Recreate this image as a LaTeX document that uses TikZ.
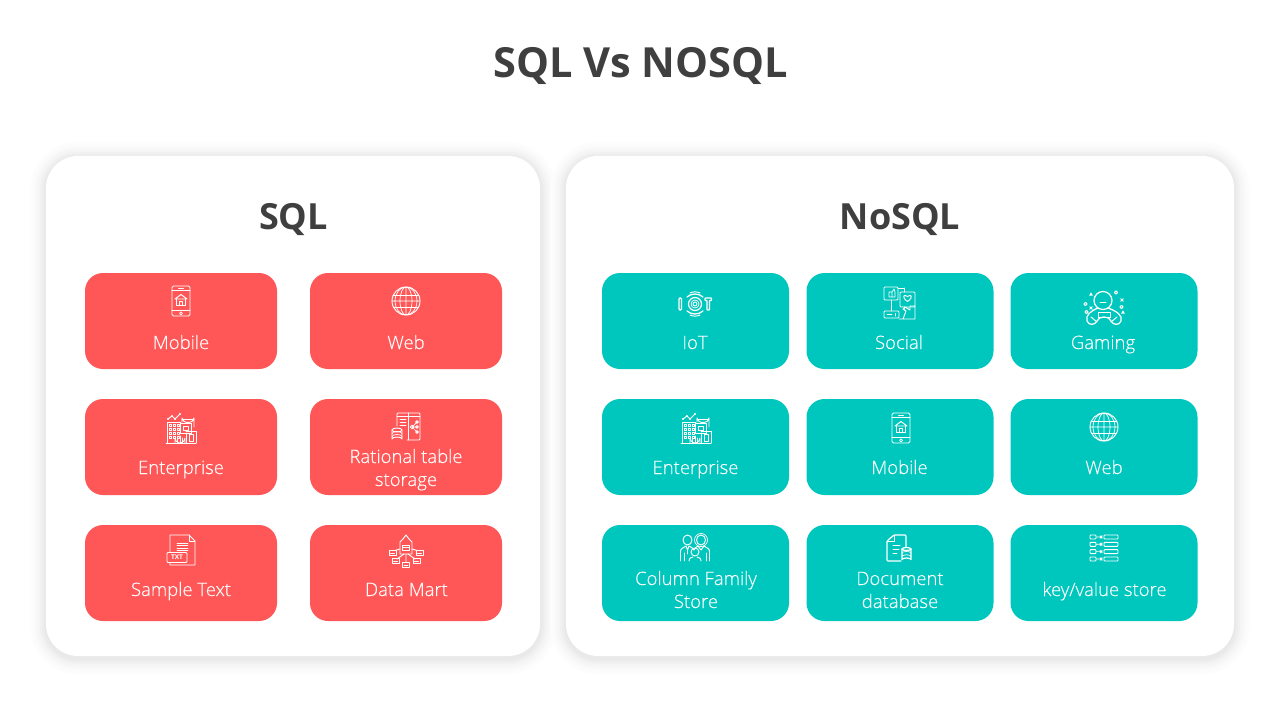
\documentclass[tikz,border=0pt]{standalone}
\usepackage{fontspec}
\setmainfont{Open Sans}
\newfontfamily\lightfont[FakeBold=0.25]{Open Sans Light}
\definecolor{sqlred}{HTML}{FF5757}
\definecolor{nosqlteal}{HTML}{00C7BE}
\definecolor{inktext}{HTML}{3F3F3F}
\newcommand{\shadowpanel}[4]{%
  \foreach \g/\k in {16/0.6,14/1.2,12/2,10/3,8/4,6/5.5,4/7,2/8.5}{
    \fill[black!\k,rounded corners={32pt+\g*1pt}]
      ({#1-\g},{#2-\g+2}) rectangle ({#3+\g},{#4+\g+2});
  }
}
\tikzset{
  x=1pt,y=-1pt,
  panel/.style={fill=white,rounded corners=32pt,inner sep=0pt,draw=none},
  redtile/.style={fill=sqlred,rounded corners=18pt,minimum height=96pt,minimum width=192pt,inner sep=0pt},
  tealtile/.style={fill=nosqlteal,rounded corners=18pt,minimum height=96pt,minimum width=187pt,inner sep=0pt},
  tiletext/.style={text=white,font=\lightfont\fontsize{18.5}{23}\selectfont,align=center,inner sep=0pt,anchor=base},
  heading/.style={text=inktext,font=\fontsize{36}{42}\bfseries\selectfont,inner sep=0pt,anchor=base},
  title/.style={text=inktext,font=\fontsize{41.5}{48}\bfseries\selectfont,inner sep=0pt,anchor=base},
  ln/.style={draw=white,line width=0.95pt,line cap=round,line join=round},
  thinln/.style={draw=white,line width=0.7pt,line cap=round,line join=round},
  boldln/.style={draw=white,line width=1.25pt,line cap=round,line join=round},
  phone/.pic={
    \draw[ln,rounded corners=1.5pt] (-9,-15) rectangle (9,15);
    \draw[thinln] (-9,-10.5)--(9,-10.5) (-9,9.5)--(9,9.5) (-2.5,-12.8)--(2.5,-12.8);
    \draw[thinln] (0,12.3) circle (1.5);
    \draw[ln] (-6,-2)--(0,-6.5)--(6,-2)--cycle;
    \draw[ln] (-4.5,-2)--(-4.5,4.5)--(4.5,4.5)--(4.5,-2);
    \draw[thinln] (-1.5,4.5)--(-1.5,0.5)--(1.5,0.5)--(1.5,4.5);
  },
  globe/.pic={
    \draw[ln] (0,0) circle (14);
    \draw[thinln] (0,0) ellipse (6 and 14) (0,0) ellipse (11 and 14) (0,-14)--(0,14) (-14,0)--(14,0);
    \draw[thinln] (-12.6,-6)--(12.6,-6) (-12.6,6)--(12.6,6);
  },
  factory/.pic={
    \draw[ln] (-15,15)--(15,15);
    \draw[ln] (-14,15)--(-14,-6)--(0,-6);
    \draw[ln] (-13,-9)--(-9,-12)--(-6,-9)--(-1,-14);
    \fill[white] (-13,-9) circle (1.2) (-9,-12) circle (1.2) (-6,-9) circle (1.2) (-1,-14) circle (1.2);
    \draw[ln] (1,-6)--(1,-10) arc[start angle=180,end angle=0,x radius=6,y radius=4.5]--(13,-1);
    \draw[thinln] (1,-9)--(13,-9);
    \foreach \p in {-12,-8,-4}{\foreach \q in {-4,0,4,8}{\draw[thinln] (\p,\q) rectangle ++(2.6,2.6);}}
    \draw[ln] (-1,-5) rectangle (10,5);
    \draw[thinln] (2,-2) rectangle (7,2);
    \draw[thinln] (-6,15)--(-6,10) arc[start angle=180,end angle=0,radius=5]--(4,15);
    \draw[thinln] (-3.5,15)--(-3.5,10) (-1,15)--(-1,8) (1.5,15)--(1.5,10);
    \draw[ln] (5,15)--(5,5) (5,3)--(15,3)--(15,15);
    \draw[thinln] (8,6) rectangle (12.5,13);
  },
  tablestore/.pic={
    \draw[ln,rounded corners=1pt] (-9,-1)--(-9,-14)--(14,-14)--(14,13)--(1,13);
    \draw[thinln] (-9,-10.5)--(14,-10.5) (2,-14)--(2,13);
    \draw[thinln] (-6,-7.5)--(0,-7.5) (-6,-4.5)--(0,-4.5) (-6,-1.5)--(0,-1.5);
    \draw[thinln] (6,0)--(11,-5) (6,0)--(11,5) (6,0)--(11,0);
    \draw[ln] (6,0) circle (1.8) (11,-5) circle (1.4) (11,0) circle (1.4) (11,5) circle (1.4);
    \draw[ln] (-14,3)--(-14,12) arc[start angle=180,end angle=360,x radius=5,y radius=2]--(-4,3);
    \draw[ln] (-9,3) ellipse (5 and 2);
    \draw[thinln] (-14,6.5) arc[start angle=180,end angle=360,x radius=5,y radius=2];
    \draw[thinln] (-14,9.5) arc[start angle=180,end angle=360,x radius=5,y radius=2];
  },
  txtfile/.pic={
    \draw[ln] (-11,2)--(-11,-15)--(8,-15)--(14,-9)--(14,15)--(-11,15)--(-11,13);
    \draw[thinln] (8,-15)--(8,-9)--(14,-9);
    \draw[ln,rounded corners=1pt] (-14,2.5) rectangle (6,12.5);
    \draw[ln] (-4,-7)--(7,-7) (-4,-4.5)--(7,-4.5) (-4,-2)--(7,-2) (-4,0.5)--(7,0.5);
    \node[text=white,font=\fontsize{6.5}{6.5}\bfseries\selectfont,inner sep=0pt] (txtlabel) at (-4,7.5) {TXT};
  },
  datamart/.pic={
    \draw[ln] (-6,-9)--(-6,3)--(6,3)--(6,-9)--(3,-12)--(0,-16)--(-3,-12)--cycle;
    \draw[thinln] (-3.5,-6) rectangle (3.5,-1);
    \draw[thinln] (-3.5,-3.5)--(3.5,-3.5);
    \draw[ln] (-6,-2)--(-11,-0.5) (6,-2)--(11,-0.5) (0,3)--(0,11) (-2,3)--(-9,8) (2,3)--(9,8);
    \foreach \p/\q in {-13.5/2,13.5/2,-10.5/10,10.5/10,0/14}{
      \draw[ln] ({\p-3.5},{\q-2.5}) rectangle ({\p+3.5},{\q+2.5});
      \draw[thinln] ({\p-2},\q)--({\p+2},\q);
    }
  },
  iot/.pic={
    \draw[boldln,rounded corners=1pt] (-16,-6) rectangle (-13.5,6);
    \draw[boldln,rounded corners=.6pt] (10,-6)--(16.5,-6)--(16.5,-3.5)--(14.5,-3.5)--(14.5,6)--(12,6)--(12,-3.5)--(10,-3.5)--cycle;
    \draw[boldln] (0,0) circle (6.5);
    \draw[ln] (0,0) circle (2);
    \draw[thinln] (0,0) circle (4);
    \draw[boldln] (-8,-7) .. controls (-3.5,-11) and (3.5,-11) .. (8,-7);
    \draw[ln] (-5,-11) .. controls (-2,-12.5) and (2,-12.5) .. (5,-11);
    \draw[boldln] (-8,7) .. controls (-3.5,11) and (3.5,11) .. (8,7);
    \draw[ln] (-5,11) .. controls (-2,12.5) and (2,12.5) .. (5,11);
  },
  social/.pic={
    \draw[ln,rounded corners=1pt] (-16,-16) rectangle (-2,-3);
    \draw[thinln] (-9,-3)--(-9,8);
    \draw[thinln] (-11,-6) rectangle (-8,-11) (-8,-11)--(-6,-14)--(-5,-11)--(-5,-6)--(-8,-6);
    \draw[thinln] (-2,-15)--(4,-15) (4,-15)--(4,-11);
    \draw[ln,rounded corners=1pt] (0,-11) rectangle (15,4);
    \draw[thinln] (4,4)--(4,7);
    \draw[ln] (7.5,-1.5) .. controls (1,-6) and (4,-9.5) .. (7.5,-6.5) .. controls (11,-9.5) and (14,-6) .. (7.5,-1.5);
    \draw[ln,rounded corners=1pt] (-16,8) rectangle (-1,15);
    \draw[thinln] (-13,11.5)--(-8,11.5) (-5,10.5)--(-5,13);
    \draw[ln] (3,16)--(6,8)--(3,6)--(5,4)--(10,7)--(10,3)--(15,3)--(15,16)--(-1,16);
  },
  gaming/.pic={
    \draw[boldln] (-1,-7.5) circle (9);
    \draw[ln] (-4,-6)--(2,-6);
    \draw[boldln] (-6,0) .. controls (-13,3) and (-19,7) .. (-17,13) .. controls (-15,18) and (-9,17) .. (-7,13) .. controls (-6,10) and (-3,9) .. (0,9) .. controls (3,9) and (6,10) .. (7,13) .. controls (9,17) and (15,18) .. (17,13) .. controls (19,7) and (12,3) .. (4,0);
    \draw[ln] (-6,4) rectangle (6,9);
    \draw[ln] (-13,9)--(-7,14) (13,9)--(7,14);
    \foreach \p/\q in {-18.5/-4,-17.5/4,12/-15.5,17.5/-1}{\draw[ln] (\p,\q) circle (1.6);}
    \foreach \p/\q in {-13/0,18/-8}{\draw[ln] (\p-1.4,\q-1.4)--(\p+1.4,\q+1.4) (\p-1.4,\q+1.4)--(\p+1.4,\q-1.4);}
    \foreach \p/\q in {-13/-14,19/4}{\fill[white] (\p-1.8,\q+1.5)--(\p,\q-1.7)--(\p+1.8,\q+1.5)--cycle;}
  },
  family/.pic={
    \draw[ln] (-7.5,-8) ellipse (4.5 and 5);
    \draw[ln] (6,-8) ellipse (4.5 and 5);
    \draw[thinln] (6,-8) ellipse (6.5 and 6.5);
    \draw[ln] (-14.5,13)--(-14.5,3) .. controls (-14.5,0) and (-11,0) .. (-9,-2)--(-7.5,2)--(-6,-2) .. controls (-4,-1) and (-2,0) .. (-1,2);
    \draw[ln] (14.5,13)--(14.5,3) .. controls (14.5,0) and (11,0) .. (9,-2)--(6,2)--(3,-2) .. controls (1,-1) and (0,0) .. (-1,2);
    \draw[thinln] (-11,5)--(-11,13) (11,5)--(11,13) (-7.5,2)--(-7.5,6);
    \draw[ln] (0,4) circle (4);
    \draw[ln] (-6,13) .. controls (-6,9.5) and (-3,9.5) .. (-2,9) (6,13) .. controls (6,9.5) and (3,9.5) .. (2,9);
  },
  docstore/.pic={
    \draw[boldln,rounded corners=1pt] (2,13)--(-12,13)--(-12,-7)--(-5,-13)--(7,-13)--(7,-1);
    \draw[ln] (-5,-13)--(-5,-7)--(-12,-7);
    \draw[ln] (-6,-3)--(1,-3) (-6,1)--(0,1) (-6,5)--(-2,5);
    \draw[boldln] (3,1)--(3,11.5) arc[start angle=180,end angle=360,x radius=4.5,y radius=1.5]--(12,1);
    \draw[boldln] (7.5,1) ellipse (4.5 and 1.5);
    \draw[thinln] (3,5) arc[start angle=180,end angle=360,x radius=4.5,y radius=1.5];
    \draw[thinln] (3,8.3) arc[start angle=180,end angle=360,x radius=4.5,y radius=1.5];
  },
  kvstore/.pic={
    \foreach \q in {-11,-3.7,3.6,11}{
      \draw[ln,rounded corners=.8pt] (-14,\q-2) rectangle (-8,\q+2);
      \draw[ln,rounded corners=.8pt] (0,\q-2) rectangle (14,\q+2);
      \draw[thinln] (-8,\q)--(-2,\q) (-2,\q-1.5)--(-2,\q+1.5) (-4,\q-1.2)--(-2,\q)--(-4,\q+1.2);
    }
  }
}
\begin{document}
\begin{tikzpicture}
\useasboundingbox (0,0) rectangle (1280,720);
\fill[white] (0,0) rectangle (1280,720);
\shadowpanel{46}{156}{540}{656}
\shadowpanel{566}{156}{1234}{656}
\node[panel,minimum width=494pt,minimum height=500pt] (sqlpanel) at (293,406) {};
\node[panel,minimum width=668pt,minimum height=500pt] (nosqlpanel) at (900,406) {};
\node[title] (maintitle) at (640.5,77) {SQL Vs NOSQL};
\node[heading] (sqlhead) at (293.5,229) {SQL};
\node[heading] (nosqlhead) at (900,229) {NoSQL};

\node[redtile] (r1) at (181,321) {};
\node[redtile] (r2) at (406,321) {};
\node[redtile] (r3) at (181,447) {};
\node[redtile] (r4) at (406,447) {};
\node[redtile] (r5) at (181,573) {};
\node[redtile] (r6) at (406,573) {};
\node[tealtile] (t1) at (695.5,321) {};
\node[tealtile] (t2) at (900,321) {};
\node[tealtile] (t3) at (1104,321) {};
\node[tealtile] (t4) at (695.5,447) {};
\node[tealtile] (t5) at (900,447) {};
\node[tealtile] (t6) at (1104,447) {};
\node[tealtile] (t7) at (695.5,573) {};
\node[tealtile] (t8) at (900,573) {};
\node[tealtile] (t9) at (1104,573) {};

\node[tiletext] (lr1) at (181,349) {Mobile};
\node[tiletext] (lr2) at (406,349) {Web};
\node[tiletext] (lr3) at (181,474) {Enterprise};
\node[tiletext] (lr4) at (406,486) {Rational table\\storage};
\node[tiletext] (lr5) at (181,596) {Sample Text};
\node[tiletext] (lr6) at (406.5,596) {Data Mart};
\node[tiletext] (lt1) at (695,349) {IoT};
\node[tiletext] (lt2) at (899,349) {Social};
\node[tiletext] (lt3) at (1103,349) {Gaming};
\node[tiletext] (lt4) at (695.5,474) {Enterprise};
\node[tiletext] (lt5) at (899.5,474) {Mobile};
\node[tiletext] (lt6) at (1104,474) {Web};
\node[tiletext] (lt7) at (696,608) {Column Family\\Store};
\node[tiletext] (lt8) at (900,608) {Document\\database};
\node[tiletext] (lt9) at (1104.5,596) {key/value store};

\pic at (181,301) {phone};
\pic at (406,301) {globe};
\pic at (181,428) {factory};
\pic at (406,427) {tablestore};
\pic at (181,550) {txtfile};
\pic at (406,551) {datamart};
\pic at (695,304) {iot};
\pic at (900,303) {social};
\pic at (1104,308) {gaming};
\pic at (696,428) {factory};
\pic at (901,428) {phone};
\pic at (1104,427) {globe};
\pic at (695,548) {family};
\pic at (899,548) {docstore};
\pic at (1104,548) {kvstore};
\end{tikzpicture}
\end{document}
